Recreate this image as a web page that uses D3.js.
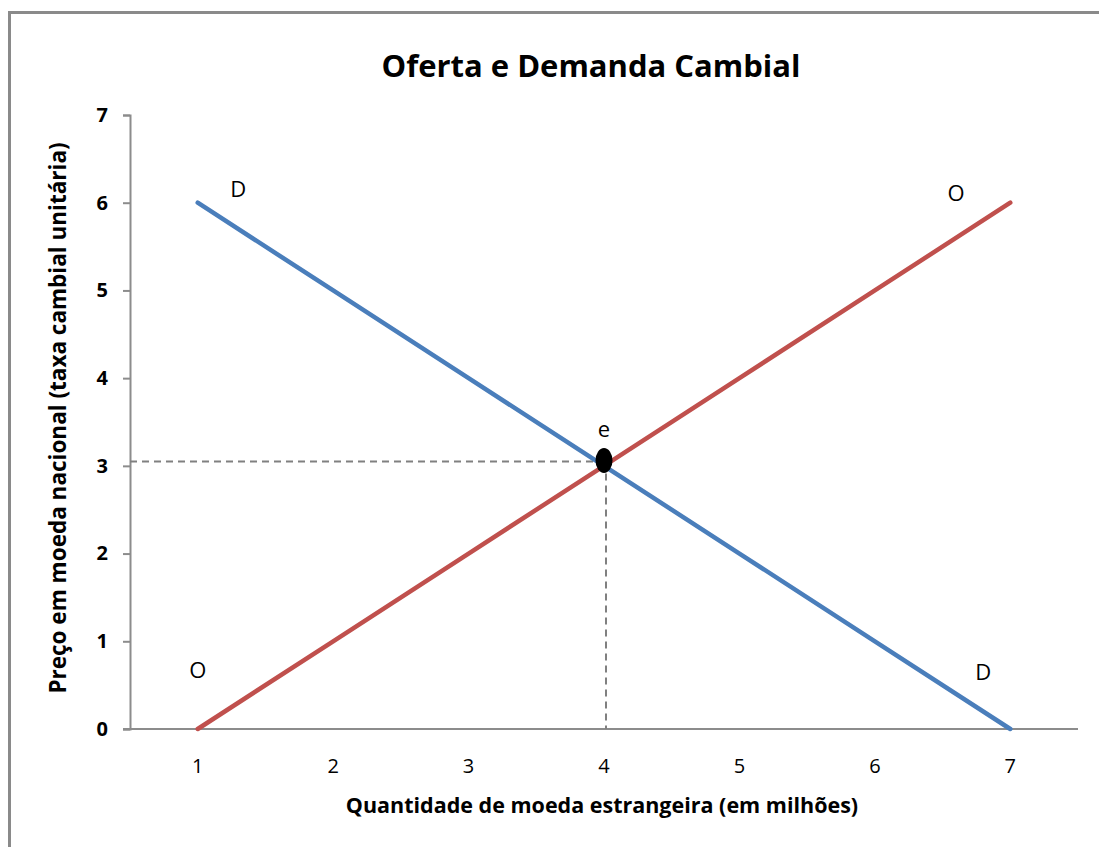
<!DOCTYPE html>
<html>
<head>
<meta charset="utf-8">
<script src="https://cdn.jsdelivr.net/npm/d3@7"></script>
<style>
  body { margin: 0; background: #fff; }
  text { font-family: "Open Sans", "Noto Sans", sans-serif; fill: #000; }
</style>
</head>
<body>
<div id="chart"></div>
<script>
var width = 1099,
    height = 847;

// data
var quantities = [1, 2, 3, 4, 5, 6, 7];
var demanda = [6, 5, 4, 3, 2, 1, 0];
var oferta = [0, 1, 2, 3, 4, 5, 6];
var yTicks = [0, 1, 2, 3, 4, 5, 6, 7];
var equilibrio = {q: 4, p: 3.05};
var curveLabels = [
  {text: "D", q: 1.3, p: 6.15},
  {text: "O", q: 6.6, p: 6.11},
  {text: "O", q: 1.0, p: 0.67},
  {text: "D", q: 6.8, p: 0.65},
  {text: "e", q: 4.0, p: 3.42}
];

var plot = {left: 130, right: 1078, top: 115, bottom: 729};

var svg = d3.select("#chart").append("svg")
    .attr("width", width)
    .attr("height", height);

// outer chart border (cut off by the window at right and bottom)
svg.append("rect")
    .attr("x", 9.5)
    .attr("y", 12.5)
    .attr("width", 1200)
    .attr("height", 1000)
    .attr("fill", "#fff")
    .attr("stroke", "#8a8a8a")
    .attr("stroke-width", 3);

var x = d3.scalePoint()
    .domain(quantities)
    .range([plot.left, plot.right])
    .padding(0.5);

var y = d3.scaleLinear()
    .domain([0, 7])
    .range([plot.bottom, plot.top]);

// title
svg.append("text")
    .attr("x", 591)
    .attr("y", 77)
    .attr("text-anchor", "middle")
    .style("font-size", "31px")
    .style("font-weight", "bold")
    .text("Oferta e Demanda Cambial");

// y axis
var yAxis = svg.append("g")
    .attr("transform", "translate(" + plot.left + ",0)")
    .call(d3.axisLeft(y).tickValues(yTicks).tickSize(7).tickPadding(15).tickFormat(d3.format("d")));
yAxis.select(".domain").attr("stroke", "#8c8c8c").attr("stroke-width", 2);
yAxis.selectAll(".tick line").attr("stroke", "#8c8c8c").attr("stroke-width", 2);
yAxis.selectAll(".tick text")
    .style("font-size", "20px")
    .style("font-weight", "bold")
    .style("font-family", "'Open Sans', sans-serif")
    .attr("fill", "#000");

// x axis (baseline only, no ticks)
svg.append("line")
    .attr("x1", plot.left - 7)
    .attr("x2", plot.right)
    .attr("y1", y(0))
    .attr("y2", y(0))
    .attr("stroke", "#8c8c8c")
    .attr("stroke-width", 2);

svg.selectAll(".xlabel")
    .data(quantities)
  .enter().append("text")
    .attr("class", "xlabel")
    .attr("x", function(d) { return x(d); })
    .attr("y", 773)
    .attr("text-anchor", "middle")
    .style("font-size", "20px")
    .text(function(d) { return d; });

// axis titles
svg.append("text")
    .attr("x", 602)
    .attr("y", 813)
    .attr("text-anchor", "middle")
    .style("font-size", "21.5px")
    .style("font-weight", "bold")
    .text("Quantidade de moeda estrangeira (em milhões)");

svg.append("text")
    .attr("transform", "translate(66," + 418 + ")rotate(-90)")
    .attr("text-anchor", "middle")
    .style("font-size", "22.5px")
    .style("font-weight", "bold")
    .text("Preço em moeda nacional (taxa cambial unitária)");

// dashed guides to equilibrium
svg.append("line")
    .attr("x1", plot.left)
    .attr("x2", x(equilibrio.q))
    .attr("y1", y(equilibrio.p))
    .attr("y2", y(equilibrio.p))
    .attr("stroke", "#808080")
    .attr("stroke-width", 2)
    .attr("stroke-dasharray", "7,5");
svg.append("line")
    .attr("x1", x(equilibrio.q) + 2)
    .attr("x2", x(equilibrio.q) + 2)
    .attr("y1", y(equilibrio.p))
    .attr("y2", y(0))
    .attr("stroke", "#808080")
    .attr("stroke-width", 2)
    .attr("stroke-dasharray", "7,5");

// curves
var line = d3.line()
    .x(function(d) { return x(d.q); })
    .y(function(d) { return y(d.p); });

function series(values) {
  return quantities.map(function(q, i) { return {q: q, p: values[i]}; });
}

svg.append("path")
    .datum(series(oferta))
    .attr("d", line)
    .attr("fill", "none")
    .attr("stroke", "#c0504d")
    .attr("stroke-width", 4.5)
    .attr("stroke-linecap", "round");

svg.append("path")
    .datum(series(demanda))
    .attr("d", line)
    .attr("fill", "none")
    .attr("stroke", "#4a7ebb")
    .attr("stroke-width", 4.5)
    .attr("stroke-linecap", "round");

// equilibrium point
svg.append("ellipse")
    .attr("cx", x(equilibrio.q))
    .attr("cy", y(equilibrio.p) - 1)
    .attr("rx", 8.5)
    .attr("ry", 12.5)
    .attr("fill", "#000");

// curve labels
svg.selectAll(".curveLabel")
    .data(curveLabels)
  .enter().append("text")
    .attr("class", "curveLabel")
    .attr("x", function(d) { return x.step() * (d.q - 1) + x(1); })
    .attr("y", function(d) { return y(d.p); })
    .attr("text-anchor", "middle")
    .attr("dy", "0.35em")
    .style("font-size", "22px")
    .text(function(d) { return d.text; });
</script>
</body>
</html>
